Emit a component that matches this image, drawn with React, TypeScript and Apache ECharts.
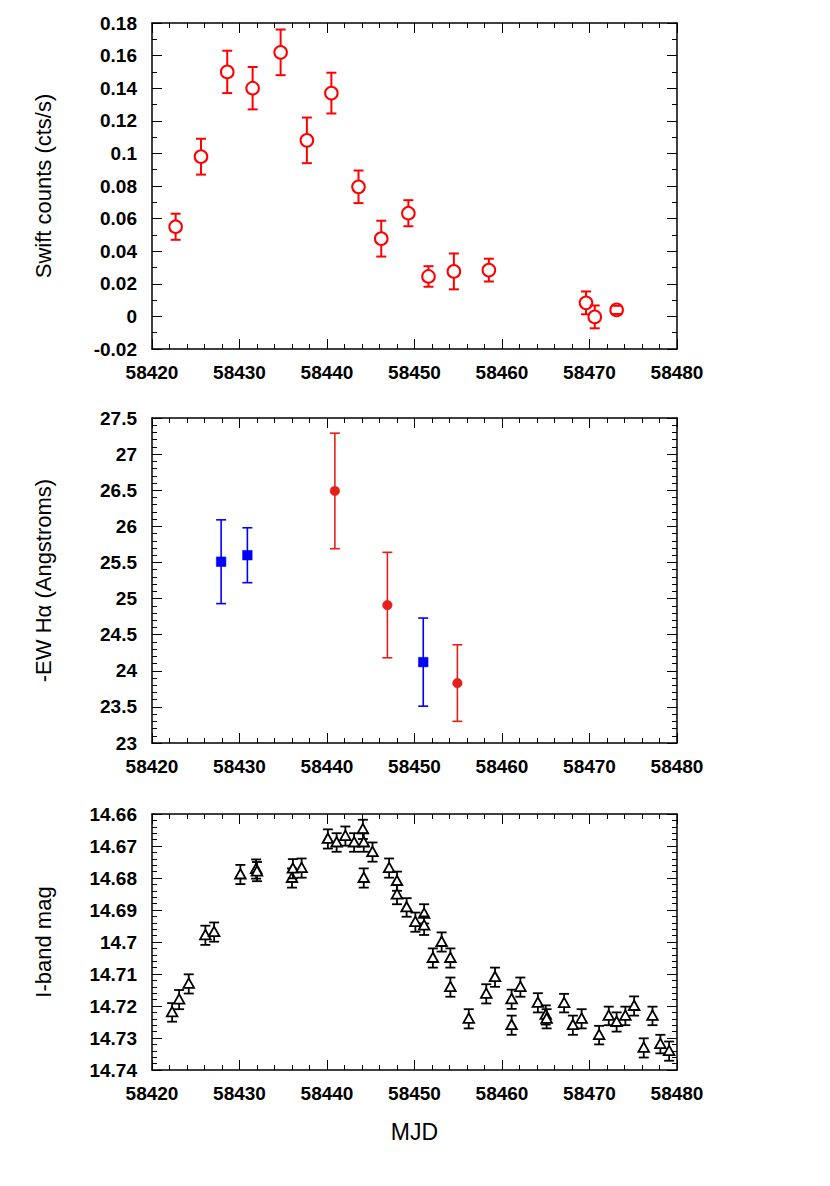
import React, { useEffect, useRef } from 'react';
import * as echarts from 'echarts';

// ---- Panel 1: Swift count rate ----
const swiftMjd = [58422.7, 58425.6, 58428.6, 58431.5, 58434.7, 58437.7, 58440.5, 58443.6, 58446.2, 58449.3, 58451.6, 58454.5, 58458.5, 58469.6, 58470.6, 58473.1];
const swiftRate = [0.055, 0.098, 0.150, 0.140, 0.162, 0.108, 0.137, 0.0795, 0.0477, 0.0633, 0.0245, 0.0276, 0.0284, 0.0083, -0.0003, 0.0040];
const swiftErr = [0.008, 0.011, 0.013, 0.013, 0.014, 0.014, 0.0125, 0.010, 0.011, 0.008, 0.0063, 0.011, 0.007, 0.007, 0.007, 0.0025];

// ---- Panel 2: -EW H-alpha ----
const blueMjd = [58427.9, 58430.9, 58451.0];
const blueEw = [25.51, 25.60, 24.12];
const blueErr = [0.58, 0.38, 0.61];
const redMjd = [58440.9, 58446.9, 58454.9];
const redEw = [26.49, 24.91, 23.83];
const redErr = [0.80, 0.73, 0.53];

// ---- Panel 3: I-band magnitude ----
const iMjd = [
  58422.3, 58423.1, 58424.2, 58426.1, 58427.1, 58430.1, 58431.9, 58432.0, 58436.0, 58436.1,
  58437.1, 58440.1, 58441.1, 58442.1, 58443.1, 58444.1, 58444.2, 58444.2, 58445.2, 58447.1,
  58448.0, 58448.0, 58449.1, 58450.1, 58451.1, 58451.1, 58452.1, 58453.1, 58454.1, 58454.1,
  58456.2, 58458.2, 58459.2, 58461.1, 58461.1, 58462.1, 58464.1, 58465.0, 58465.1, 58467.1,
  58468.1, 58469.1, 58471.1, 58472.2, 58473.1, 58474.1, 58475.1, 58476.2, 58477.2, 58478.1,
  58479.1,
];
const iMag = [
  14.7220, 14.7180, 14.7131, 14.6979, 14.6969, 14.6789, 14.6772, 14.6780, 14.6800, 14.6771,
  14.6769, 14.6678, 14.6689, 14.6669, 14.6689, 14.6648, 14.6689, 14.6800, 14.6719, 14.6769,
  14.6810, 14.6852, 14.6892, 14.6938, 14.6912, 14.6949, 14.7050, 14.7000, 14.7050, 14.7141,
  14.7240, 14.7162, 14.7110, 14.7179, 14.7260, 14.7141, 14.7190, 14.7228, 14.7240, 14.7191,
  14.7260, 14.7240, 14.7291, 14.7231, 14.7250, 14.7231, 14.7200, 14.7331, 14.7231, 14.7319,
  14.7341,
];
const iErr = [
  0.0029, 0.0030, 0.0030, 0.0030, 0.0030, 0.0030, 0.0030, 0.0030, 0.0030, 0.0030,
  0.0030, 0.0030, 0.0029, 0.0030, 0.0029, 0.0030, 0.0029, 0.0030, 0.0030, 0.0030,
  0.0030, 0.0030, 0.0029, 0.0030, 0.0030, 0.0029, 0.0030, 0.0030, 0.0030, 0.0030,
  0.0030, 0.0030, 0.0030, 0.0030, 0.0030, 0.0030, 0.0030, 0.0030, 0.0030, 0.0029,
  0.0030, 0.0030, 0.0029, 0.0029, 0.0030, 0.0029, 0.0030, 0.0030, 0.0029, 0.0029,
  0.0030,
];

const xTicks = { min: 58420, max: 58480, interval: 10 };
const FONT = 'Liberation Sans, Arial, Helvetica, sans-serif';

const zip = (xs: number[], ys: number[], es: number[]) => xs.map((x, i) => [x, ys[i], es[i]]);

function fmt(v: number) {
  return String(Number(v.toFixed(4)));
}

function xAxisPair(gi: number, withName?: string) {
  const common = {
    type: 'value',
    gridIndex: gi,
    min: xTicks.min,
    max: xTicks.max,
    interval: xTicks.interval,
    axisLine: { show: true, onZero: false, lineStyle: { color: '#000', width: 1.5 } },
    axisTick: { show: true, inside: true, length: 10, lineStyle: { color: '#000', width: 1 } },
    minorTick: { show: true, splitNumber: 5, length: 5, lineStyle: { color: '#000', width: 1 } },
    splitLine: { show: false },
    minorSplitLine: { show: false },
  };
  return [
    {
      ...common,
      position: 'bottom',
      axisLabel: { show: true, margin: 14, fontSize: 19, fontWeight: 'bold', color: '#000', fontFamily: FONT, formatter: (v: number) => fmt(v) },
      ...(withName
        ? { name: withName, nameLocation: 'middle', nameGap: 50, nameTextStyle: { fontSize: 23, color: '#000', fontFamily: FONT } }
        : {}),
    },
    { ...common, position: 'top', axisLabel: { show: false } },
  ];
}

function yAxisPair(gi: number, min: number, max: number, interval: number, minorSplit: number, name: string, inverse = false) {
  const common = {
    type: 'value',
    gridIndex: gi,
    min,
    max,
    interval,
    inverse,
    axisLine: { show: true, onZero: false, lineStyle: { color: '#000', width: 1.5 } },
    axisTick: { show: true, inside: true, length: 10, lineStyle: { color: '#000', width: 1 } },
    minorTick: { show: true, splitNumber: minorSplit, length: 5, lineStyle: { color: '#000', width: 1 } },
    splitLine: { show: false },
    minorSplitLine: { show: false },
  };
  return [
    {
      ...common,
      position: 'left',
      axisLabel: { show: true, margin: 15, fontSize: 19, fontWeight: 'bold', color: '#000', fontFamily: FONT, formatter: (v: number) => fmt(v) },
      name,
      nameLocation: 'middle',
      nameGap: 98,
      nameTextStyle: { fontSize: 22, color: '#000', fontFamily: FONT },
    },
    { ...common, position: 'right', axisLabel: { show: false } },
  ];
}

type Marker = 'openCircle' | 'filledCircle' | 'filledSquare' | 'openTriangle';

function errSeries(gi: number, data: number[][], color: string, marker: Marker, lw: number, cap: number) {
  return {
    type: 'custom',
    xAxisIndex: gi * 2,
    yAxisIndex: gi * 2,
    silent: true,
    data,
    renderItem: (_params: any, api: any) => {
      const x = api.value(0);
      const y = api.value(1);
      const e = api.value(2);
      const c = api.coord([x, y]);
      const a = api.coord([x, y + e]);
      const b = api.coord([x, y - e]);
      const hc = cap / 2;
      const children: any[] = [
        { type: 'line', shape: { x1: c[0], y1: a[1], x2: c[0], y2: b[1] }, style: { stroke: color, lineWidth: lw } },
      ];
      if (marker === 'openCircle') {
        children.push({ type: 'circle', shape: { cx: c[0], cy: c[1], r: 6.3 }, style: { fill: '#fff', stroke: color, lineWidth: 2 } });
      } else if (marker === 'filledCircle') {
        children.push({ type: 'circle', shape: { cx: c[0], cy: c[1], r: 4.8 }, style: { fill: color, stroke: color, lineWidth: 0.5 } });
      } else if (marker === 'filledSquare') {
        children.push({ type: 'rect', shape: { x: c[0] - 4.8, y: c[1] - 4.8, width: 9.6, height: 9.6 }, style: { fill: color, stroke: color, lineWidth: 0.5 } });
      } else {
        children.push({
          type: 'polygon',
          shape: { points: [[c[0], c[1] - 5.5], [c[0] + 5.3, c[1] + 4], [c[0] - 5.3, c[1] + 4]] },
          style: { fill: '#fff', stroke: color, lineWidth: 1.8 },
        });
      }
      children.push(
        { type: 'line', shape: { x1: c[0] - hc, y1: a[1], x2: c[0] + hc, y2: a[1] }, style: { stroke: color, lineWidth: lw } },
        { type: 'line', shape: { x1: c[0] - hc, y1: b[1], x2: c[0] + hc, y2: b[1] }, style: { stroke: color, lineWidth: lw } },
      );
      return { type: 'group', children };
    },
  };
}

export default function App() {
  const ref = useRef<HTMLDivElement>(null);
  useEffect(() => {
    const chart = echarts.init(ref.current as HTMLDivElement, null, { renderer: 'svg' });
    const option: any = {
      animation: false,
      backgroundColor: '#fff',
      grid: [
        { left: 152, top: 23, width: 525, height: 326, outerBoundsMode: 'none' },
        { left: 152, top: 418, width: 525, height: 325, outerBoundsMode: 'none' },
        { left: 152, top: 814, width: 525, height: 256, outerBoundsMode: 'none' },
      ],
      xAxis: [...xAxisPair(0), ...xAxisPair(1), ...xAxisPair(2, 'MJD')],
      yAxis: [
        ...yAxisPair(0, -0.02, 0.18, 0.02, 2, 'Swift counts (cts/s)'),
        ...yAxisPair(1, 23, 27.5, 0.5, 5, '-EW H\u03b1 (Angstroms)'),
        ...yAxisPair(2, 14.66, 14.74, 0.01, 5, 'I-band mag', true),
      ],
      series: [
        errSeries(0, zip(swiftMjd, swiftRate, swiftErr), '#ff0000', 'openCircle', 2, 10),
        errSeries(1, zip(blueMjd, blueEw, blueErr), '#0000ff', 'filledSquare', 1.6, 10),
        errSeries(1, zip(redMjd, redEw, redErr), '#e4201b', 'filledCircle', 1.6, 10),
        errSeries(2, zip(iMjd, iMag, iErr), '#000', 'openTriangle', 1.8, 10),
      ],
    };
    chart.setOption(option);
    return () => chart.dispose();
  }, []);
  return <div ref={ref} style={{ position: 'absolute', left: 0, top: 0, width: 830, height: 1186 }} />;
}
